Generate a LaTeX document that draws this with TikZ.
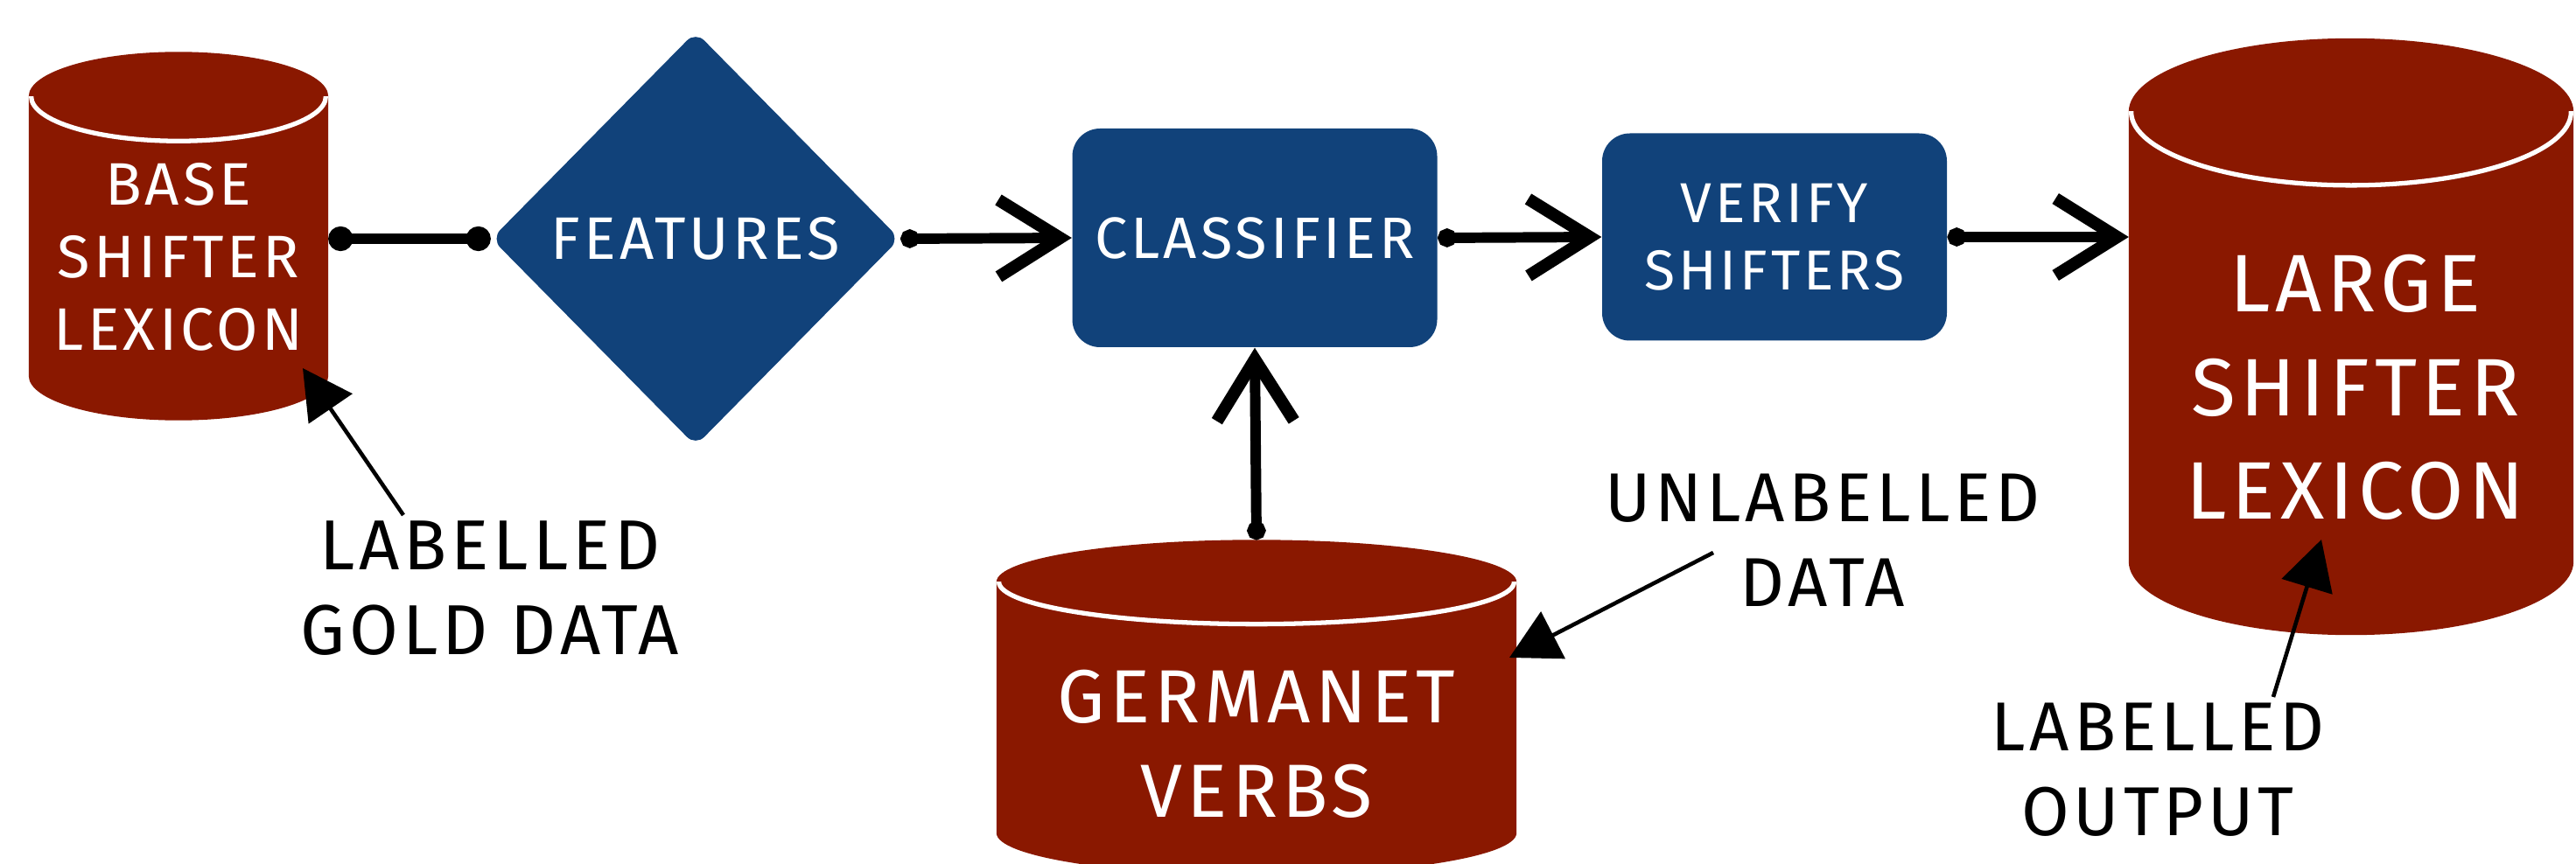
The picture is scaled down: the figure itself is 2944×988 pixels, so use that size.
\documentclass[tikz,border=0pt]{standalone}
\usepackage{fontspec}
\setmainfont[LetterSpace=6]{Fira Sans}
\usetikzlibrary{arrows.meta,shapes.geometric,calc}
\definecolor{dbred}{RGB}{138,24,0}
\definecolor{dbblue}{RGB}{17,66,122}

% cylinder drawn behind an empty node: #1 node, #2 radius of the ends
\newcommand{\drawstore}[2]{%
	\fill[dbred] let \p1=(#1.north west), \p2=(#1.south east), \n1={(\x2-\x1)/2} in
	(\x1,\y1-#2) rectangle (\x2,\y2+#2)
	(\x1+\n1,\y1-#2) ellipse [x radius=\n1, y radius=#2]
	(\x1+\n1,\y2+#2) ellipse [x radius=\n1, y radius=#2];
	\begin{scope}
		\clip let \p1=(#1.north west), \p2=(#1.south east) in (\x1-5pt,\y1-#2) rectangle (\x2+5pt,\y2);
		\draw[white, line width=1.5pt] let \p1=(#1.north west), \p2=(#1.south east), \n1={(\x2-\x1)/2-0.8pt} in
		(\x1+\n1+0.8pt,\y1-#2) ellipse [x radius=\n1, y radius=#2];
	\end{scope}}

\begin{document}
\begin{tikzpicture}[
	x=0.01cm, y=-0.01cm,
	>={Straight Barb[length=20pt,width=25pt,line width=4pt]},
	store/.style={inner sep=0pt, draw=none},
	proc/.style={fill=dbblue, rounded corners=9pt, text=white, align=center, inner sep=0pt},
	intext/.style={text=white, align=center, inner sep=0pt},
	flow/.style={line width=3.4pt, line cap=round},
	note/.style={line width=1.3pt, -{Triangle[length=16pt,width=17pt]}},
	hand/.style={align=center, inner sep=0pt, font=\fontsize{23}{27.6}\selectfont}
	]
	\useasboundingbox (0,0) rectangle (2944,988);
	\clip (0,0) rectangle (2944,988);
	
	%--- stores ---
	\node[store, minimum width=341*0.01cm, minimum height=420*0.01cm] (base) at (204,270) {};
	\node[store, minimum width=507*0.01cm, minimum height=681*0.01cm] (large) at (2687,385) {};
	\node[store, minimum width=593*0.01cm, minimum height=382*0.01cm] (germanet) at (1436,809) {};
	\drawstore{base}{14.5pt}
	\drawstore{large}{23.9pt}
	\drawstore{germanet}{13.7pt}
	
	\node[intext, font=\fontsize{19.5}{23.6}\selectfont] (basetxt) at (204,294) {BASE\\SHIFTER\\LEXICON};
	\node[intext, font=\fontsize{26.5}{33.6}\selectfont] (largetxt) at (2692,443) {LARGE\\SHIFTER\\LEXICON};
	\node[intext, font=\fontsize{24.5}{30.7}\selectfont] (germanettxt) at (1436,851) {GERMANET\\VERBS};
	
	%--- processing steps ---
	\node[diamond, fill=dbblue, rounded corners=4pt, minimum width=467*0.01cm, minimum height=474*0.01cm, inner sep=0pt,
	text=white, font=\fontsize{19.5}{22}\selectfont] (features) at (795,273) {FEATURES};
	\node[proc, minimum width=417*0.01cm, minimum height=250*0.01cm, font=\fontsize{19}{24}\selectfont] (classifier) at (1434,272) {CLASSIFIER};
	\node[proc, minimum width=394*0.01cm, minimum height=237*0.01cm, font=\fontsize{18.3}{22}\selectfont] (verify) at (2028,271) {VERIFY\\SHIFTERS};
	
	%--- flow ---
	\draw[flow, {Circle[length=8pt]}-{Circle[length=8pt]}] (base.east |- features.west) -- (features.west);
	\draw[flow, {Circle[length=6pt]}->] (features.east) -- (classifier.west);
	\draw[flow, {Circle[length=6pt]}->] (classifier.east) -- (verify.west);
	\draw[flow, {Circle[length=6pt]}->] (verify.east) -- (verify.east -| large.west);
	\draw[flow, {Circle[length=6pt]}->] (germanet.north) -- (classifier.south);
	
	%--- annotations ---
	\node[hand] (lblgold) at (560,673) {LABELLED\\GOLD DATA};
	\node[hand, font=\fontsize{22.5}{27.6}\selectfont] (unlabelled) at (2083,618) {UNLABELLED\\DATA};
	\node[hand, font=\fontsize{22.5}{27.6}\selectfont] (lblout) at (2466,880) {LABELLED\\OUTPUT};
	
	\coordinate (goldtail) at (461,589);
	\coordinate (goldtip) at (346,421);
	\coordinate (unltail) at (1958,632);
	\coordinate (unltip) at (1725,752);
	\coordinate (outtail) at (2598,797);
	\coordinate (outtip) at (2653,617);
	
	\draw[note] (goldtail) -- (goldtip);
	\draw[note] (unltail) -- (unltip);
	\draw[note] (outtail) -- (outtip);
	
\end{tikzpicture}
\end{document}
